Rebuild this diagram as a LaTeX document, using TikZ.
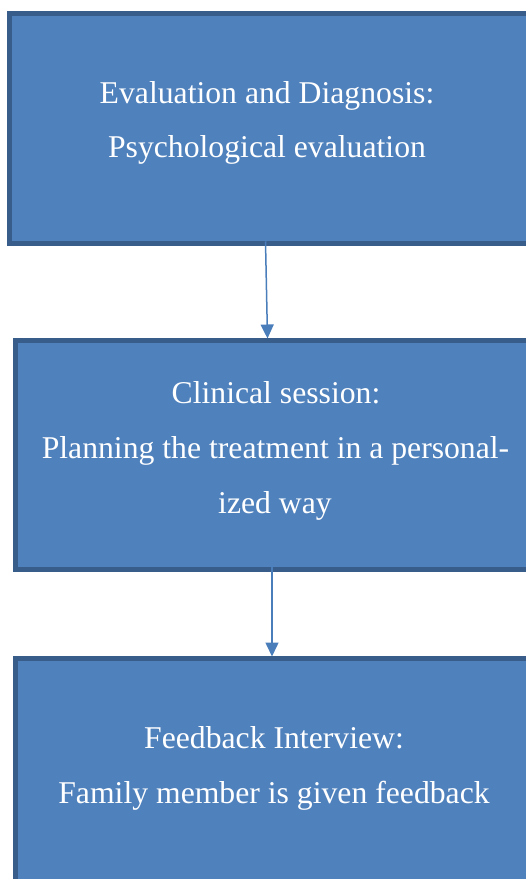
\documentclass[tikz,border=0pt]{standalone}
\usepackage{fontspec}
\setmainfont{Liberation Serif}
\usetikzlibrary{arrows.meta}
\definecolor{boxfill}{HTML}{4F81BD}
\definecolor{boxline}{HTML}{385D8A}
\definecolor{arrcol}{HTML}{4A7EBB}
\begin{document}
\begin{tikzpicture}[x=1pt,y=-1pt,
  stagebox/.style={draw=boxline,fill=boxfill,line width=4.5pt,rectangle,minimum width=560pt,anchor=north west,inner sep=0pt,outer sep=0pt},
  txt/.style={text=white,anchor=base,inner sep=0pt,font=\fontsize{31.7}{38}\selectfont},
  arr/.style={draw=arrcol,line width=1.5pt,-{Triangle[length=14pt,width=13pt]}}]
\useasboundingbox (0,0) rectangle (526,879);
\clip (0,0) rectangle (526,879);
\node[stagebox,minimum height=230pt] (b1) at (9.5,13.5) {};
\node[stagebox,minimum height=229pt] (b2) at (15.5,340.5) {};
\node[stagebox,minimum height=260pt] (b3) at (15.5,658.5) {};
\node[txt] (t11) at (267,103) {Evaluation and Diagnosis:};
\node[txt] (t12) at (267,157.5) {Psychological evaluation};
\node[txt] (t21) at (276,403) {Clinical session:};
\node[txt] (t22) at (275.5,458) {Planning the treatment in a personal-};
\node[txt] (t23) at (275,513) {ized way};
\node[txt] (t31) at (274,748) {Feedback Interview:};
\node[txt] (t32) at (274,803) {Family member is given feedback};
\draw[arr] ([xshift=256pt,yshift=2.25pt]b1.south west) -- ([xshift=252pt,yshift=2pt]b2.north west);
\draw[arr] ([xshift=256.5pt,yshift=2.25pt]b2.south west) -- ([xshift=256.5pt,yshift=2pt]b3.north west);
\end{tikzpicture}
\end{document}
